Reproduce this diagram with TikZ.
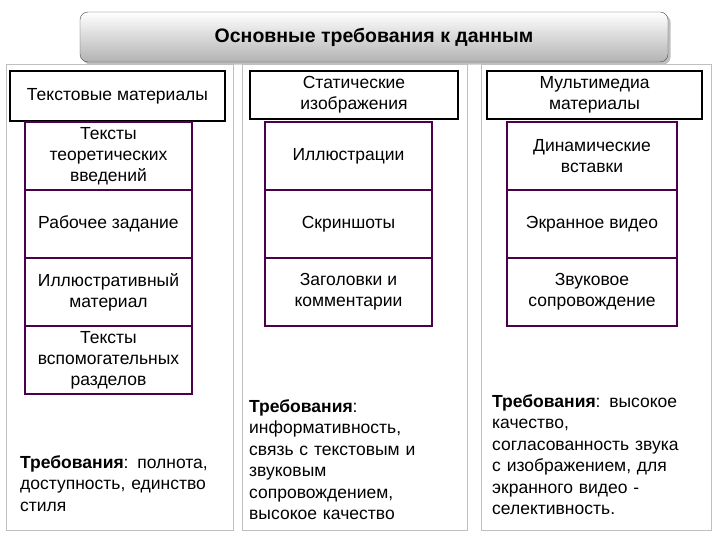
\documentclass[tikz,border=0pt]{standalone}
\usepackage{fontspec}
\setmainfont{Liberation Sans}
\usetikzlibrary{shadows}
\tikzset{
 panel/.style={draw=black!25,line width=0.8pt},
 head/.style={draw=black,line width=1.6pt,align=center,font=\fontsize{17.5}{21}\selectfont},
 sub/.style={draw=violet!60!black,line width=1.6pt,align=center,font=\fontsize{17.5}{21}\selectfont,minimum width=167pt,minimum height=68pt,inner sep=0pt},
 req/.style={anchor=north west,align=left,text width=215pt,font=\fontsize{17.5}{21.5}\selectfont,inner sep=0pt}
}
\begin{document}
\begin{tikzpicture}[x=1pt,y=-1pt]
\useasboundingbox (0,0) rectangle (720,540);
\node[draw=black!70,rounded corners=8pt,top color=white,bottom color=black!30,drop shadow,minimum width=588pt,minimum height=50pt,font=\bfseries\fontsize{19.5}{22}\selectfont] (title) at (374,37) {Основные требования к данным};
\draw[panel] (6,64) rectangle (233,530);
\draw[panel] (242,64) rectangle (467,530);
\draw[panel] (481,64) rectangle (711,530);
\node[head,minimum width=215pt,minimum height=50pt] (h1) at (117.5,96) {Текстовые материалы};
\node[head,minimum width=208pt,minimum height=48pt] (h2) at (354,95) {Статические\\изображения};
\node[head,minimum width=215pt,minimum height=48pt] (h3) at (594.5,95) {Мультимедиа\\материалы};
\node[sub] (a1) at (108.5,156) {Тексты\\теоретических\\введений};
\node[sub] (a2) at (108.5,224) {Рабочее задание};
\node[sub] (a3) at (108.5,292) {Иллюстративный\\материал};
\node[sub] (a4) at (108.5,360) {Тексты\\вспомогательных\\разделов};
\node[sub] (b1) at (348.5,156) {Иллюстрации};
\node[sub] (b2) at (348.5,224) {Скриншоты};
\node[sub] (b3) at (348.5,292) {Заголовки и\\комментарии};
\node[sub,minimum width=170pt] (c1) at (592,156) {Динамические\\вставки};
\node[sub,minimum width=170pt] (c2) at (592,224) {Экранное видео};
\node[sub,minimum width=170pt] (c3) at (592,292) {Звуковое\\сопровождение};
\node[req] (r1) at (20,455) {\textbf{Требования}: полнота,\\доступность, единство\\стиля};
\node[req] (r2) at (249,399) {\textbf{Требования}:\\информативность,\\связь с текстовым и\\звуковым\\сопровождением,\\высокое качество};
\node[req] (r3) at (492,394) {\textbf{Требования}: высокое\\качество,\\согласованность звука\\с изображением, для\\экранного видео -\\селективность.};
\end{tikzpicture}
\end{document}
